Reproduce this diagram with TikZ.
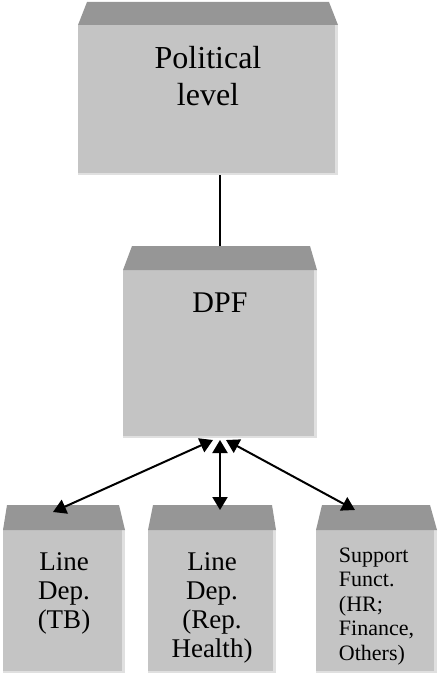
\documentclass[tikz,border=0pt]{standalone}
\usepackage{fontspec}
\setmainfont{Liberation Serif}
\usetikzlibrary{arrows.meta,positioning}
\definecolor{capgray}{RGB}{150,150,150}
\definecolor{bodygray}{RGB}{196,196,196}
\definecolor{edgegray}{RGB}{224,224,224}
\begin{document}
\begin{tikzpicture}[x=1pt, y=-1pt,
  unit/.style={fill=bodygray, inner sep=0pt, outer sep=0pt},
  txt/.style={inner sep=0pt, align=center},
  link/.style={{Triangle[length=13pt,width=15pt]}-{Triangle[length=13pt,width=15pt]}, line width=2pt}]
  \useasboundingbox (0,0) rectangle (437,677);

  % boxes
  \node[unit, minimum width=260pt, minimum height=150pt] (pol) at (208,100) {};
  \node[unit, minimum width=194pt, minimum height=168pt] (dpf) at (220,354) {};
  \node[unit, minimum width=122pt, minimum height=143pt] (tb) at (64,601.5) {};
  \node[unit, minimum width=128pt, minimum height=143pt] (rh) at (212,601.5) {};
  \node[unit, minimum width=121pt, minimum height=143pt] (sf) at (376.5,601.5) {};

  % lighter edges
  \foreach \n in {pol,dpf,tb,rh,sf} {
    \fill[edgegray] ([xshift=-3pt]\n.north east) rectangle (\n.south east);
    \fill[edgegray] (\n.south west) rectangle ([yshift=2pt]\n.south east);
  }

  % caps
  \foreach \n/\a/\b/\h in {pol/9/9/23, dpf/9/7/24, tb/4/6/25, rh/5/4/25, sf/6/7/25}
    \fill[capgray] (\n.north west) -- ([xshift=\a pt, yshift=\h pt]\n.north west)
      -- ([xshift=-\b pt, yshift=\h pt]\n.north east) -- (\n.north east) -- cycle;

  % labels
  \node[txt, font=\fontsize{32}{37}\selectfont, below=21pt of pol.north] (poltxt) {Political\\level};
  \node[txt, font=\fontsize{30}{34}\selectfont, below=23pt of dpf.north] (dpftxt) {DPF};
  \node[txt, font=\fontsize{27}{29}\selectfont, below=22pt of tb.north] (tbtxt) {Line\\Dep.\\(TB)};
  \node[txt, font=\fontsize{27}{29}\selectfont, below=22pt of rh.north] (rhtxt) {Line\\Dep.\\(Rep.\\Health)};
  \node[txt, font=\fontsize{22}{24.5}\selectfont, below=17.5pt of sf.north, align=left] (sftxt) {Support\\Funct.\\(HR;\\Finance,\\Others)};

  % connectors
  \draw[line width=1.5pt] ([xshift=12pt]pol.south) -- ([yshift=24pt]dpf.north);
  \draw[link] ([xshift=-7pt,yshift=-2pt]dpf.south) -- ([xshift=-11pt,yshift=18pt]tb.north);
  \draw[link] ([yshift=-2pt]dpf.south) -- ([xshift=8pt,yshift=20pt]rh.north);
  \draw[link] ([xshift=6pt,yshift=-2pt]dpf.south) -- ([xshift=-21.5pt,yshift=20pt]sf.north);
\end{tikzpicture}
\end{document}
